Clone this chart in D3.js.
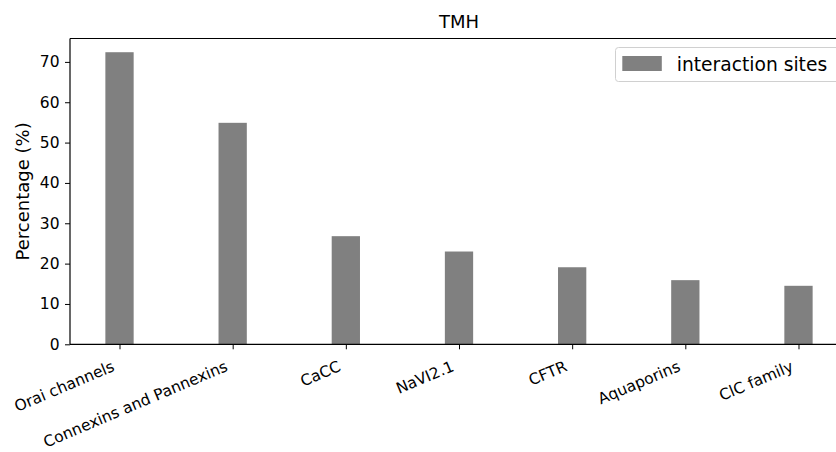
<!DOCTYPE html>
<html>
<head>
<meta charset="utf-8">
<script src="https://cdn.jsdelivr.net/npm/d3@7"></script>
<style>
body { margin: 0; background: #fff; }
text { font-family: "DejaVu Sans", sans-serif; fill: #000; }
</style>
</head>
<body>
<svg class="graph" width="836" height="452"></svg>
<script>
var categories = ['Orai channels', 'Connexins and Pannexins', 'CaCC', 'NaVI2.1', 'CFTR', 'Aquaporins', 'ClC family'];
var values = [72.4, 54.9, 26.8, 23.0, 19.1, 15.9, 14.5];
var yTicks = [0, 10, 20, 30, 40, 50, 60, 70];
var seriesName = 'interaction sites';

var plotLeft = 70, plotRight = 848, plotTop = 38.5, plotBottom = 344.3;

var svg = d3.select('.graph');

var x = d3.scaleLinear().domain([-0.4375, categories.length - 1 + 0.4375]).range([plotLeft, plotRight]);
var y = d3.scaleLinear().domain([0, 75.8]).range([plotBottom, plotTop]);
var barW = x(0.25) - x(0);

svg.selectAll('rect.bar')
    .data(values)
    .enter()
    .append('rect')
    .attr('class', 'bar')
    .attr('x', function(d, i){ return x(i) - barW / 2; })
    .attr('y', function(d){ return y(d); })
    .attr('width', barW)
    .attr('height', function(d){ return plotBottom - y(d); })
    .style('fill', '#808080');

// y axis
var yAxis = svg.append('g')
    .attr('transform', 'translate(' + plotLeft + ',0)')
    .call(d3.axisLeft(y).tickValues(yTicks).tickSize(5).tickPadding(5.5));
yAxis.select('.domain').remove();
yAxis.selectAll('text').style('font-size', '15.5px').style('font-family', '"DejaVu Sans", sans-serif').style('fill', '#000');
yAxis.selectAll('line').style('stroke', '#000').style('stroke-width', 1);

// x axis
var xAxis = svg.append('g')
    .attr('transform', 'translate(0,' + plotBottom + ')')
    .call(d3.axisBottom(x).tickValues(d3.range(categories.length)).tickSize(5).tickFormat(''));
xAxis.select('.domain').remove();
xAxis.selectAll('line').style('stroke', '#000').style('stroke-width', 1);

svg.selectAll('text.xlab')
    .data(categories)
    .enter()
    .append('text')
    .attr('class', 'xlab')
    .attr('transform', function(d, i){ return 'translate(' + (x(i) - 4) + ',' + (plotBottom + 26) + ') rotate(-23)'; })
    .attr('text-anchor', 'end')
    .style('font-size', '15.5px')
    .text(function(d){ return d; });

// spines
var spine = [[plotLeft, plotTop, plotLeft, plotBottom], [plotLeft, plotBottom, plotRight, plotBottom],
             [plotLeft, plotTop, plotRight, plotTop], [plotRight, plotTop, plotRight, plotBottom]];
svg.selectAll('line.spine')
    .data(spine)
    .enter()
    .append('line')
    .attr('class', 'spine')
    .attr('x1', function(d){ return d[0]; })
    .attr('y1', function(d){ return d[1]; })
    .attr('x2', function(d){ return d[2]; })
    .attr('y2', function(d){ return d[3]; })
    .style('stroke', '#000')
    .style('stroke-width', 1.2);

// title
svg.append('text')
    .attr('x', (plotLeft + plotRight) / 2)
    .attr('y', 28.3)
    .attr('text-anchor', 'middle')
    .style('font-size', '18px')
    .text('TMH');

// y label
svg.append('text')
    .attr('transform', 'translate(28.5,' + ((plotTop + plotBottom) / 2) + ') rotate(-90)')
    .attr('text-anchor', 'middle')
    .style('font-size', '18px')
    .text('Percentage (%)');

// legend
var legend = svg.append('g');
legend.append('rect')
    .attr('x', 615.5).attr('y', 47.5)
    .attr('width', 240).attr('height', 34)
    .attr('rx', 3)
    .style('fill', '#fff').style('stroke', '#d0d0d0').style('stroke-width', 1);
legend.append('rect')
    .attr('x', 622.3).attr('y', 56)
    .attr('width', 39.5).attr('height', 15)
    .style('fill', '#808080');
legend.append('text')
    .attr('x', 676.7).attr('y', 70.7)
    .style('font-size', '18.7px')
    .text(seriesName);
</script>
</body>
</html>
